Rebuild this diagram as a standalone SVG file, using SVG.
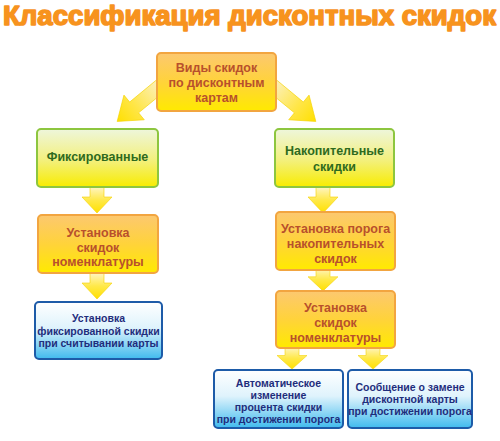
<svg xmlns="http://www.w3.org/2000/svg" width="500" height="441" viewBox="0 0 500 441">
<defs>
<linearGradient id="gOr" x1="0" y1="0" x2="0" y2="1"><stop offset="0" stop-color="#fcc870"/><stop offset="0.5" stop-color="#ffd33a"/><stop offset="1" stop-color="#ffea00"/></linearGradient>
<linearGradient id="gGr" x1="0" y1="0" x2="0" y2="1"><stop offset="0" stop-color="#eef6dc"/><stop offset="0.55" stop-color="#f3f07a"/><stop offset="1" stop-color="#f8ec00"/></linearGradient>
<linearGradient id="gBl" x1="0" y1="0" x2="0" y2="1"><stop offset="0" stop-color="#ffffff"/><stop offset="0.45" stop-color="#dff3fc"/><stop offset="1" stop-color="#40bbee"/></linearGradient>
<linearGradient id="gArV" x1="0" y1="0" x2="0" y2="1"><stop offset="0" stop-color="#fff5c4"/><stop offset="0.5" stop-color="#ffe94a"/><stop offset="1" stop-color="#ffe000"/></linearGradient>
<linearGradient id="gArD" x1="0" y1="0" x2="1" y2="0"><stop offset="0" stop-color="#fbf2d2"/><stop offset="0.6" stop-color="#ffe64a"/><stop offset="1" stop-color="#ffe000"/></linearGradient>
<polygon id="down" points="-7,0 7,0 7,10 15,10 0,26 -15,10 -7,10"/>
<polygon id="diag" points="0,-7 40,-7 40,-16 62,0 40,16 40,7 0,7"/>
</defs>
<style>
.title{font-family:"Liberation Sans",Arial,sans-serif;font-weight:bold;font-size:27px;fill:#f7931e;stroke:#f7931e;stroke-width:1.6;stroke-linejoin:round}
.or rect{fill:url(#gOr);stroke:#f2a540;stroke-width:2}
.gr rect{fill:url(#gGr);stroke:#8dc63f;stroke-width:2}
.bl rect{fill:url(#gBl);stroke:#1d5ba8;stroke-width:2}
text{font-family:"Liberation Sans",Arial,sans-serif;font-weight:bold;text-anchor:middle}
.or text{font-size:12.5px;fill:#b8502c}
.gr text{font-size:12.5px;fill:#2e6a1e}
.bl text{font-size:10.5px;fill:#1f2d7c}
.av{fill:url(#gArV);stroke:#f5d200;stroke-width:0.6}
.ad{fill:url(#gArD);stroke:#f5d200;stroke-width:0.6}
</style>
<text class="title" x="3" y="25" style="text-anchor:start" textLength="493" lengthAdjust="spacingAndGlyphs">Классификация дисконтных скидок</text>
<g id="connectors">
<use href="#diag" class="ad" transform="translate(165,82) rotate(140.5)"/>
<use href="#diag" class="ad" transform="translate(268,82) rotate(39.5)"/>
<use href="#down" class="av" transform="translate(97,187)"/>
<use href="#down" class="av" transform="translate(97,273)"/>
<use href="#down" class="av" transform="translate(323,187)"/>
<use href="#down" class="av" transform="translate(323,268) scale(1,0.88)"/>
<use href="#down" class="av" transform="translate(292,347) scale(1,0.85)"/>
<use href="#down" class="av" transform="translate(373,347) scale(1,0.85)"/>
</g>
<g id="n_top" class="or"><rect x="157" y="53" width="119" height="58" rx="4"/><text x="216.5" y="71.5">Виды скидок</text><text x="216.5" y="86.5">по дисконтным</text><text x="216.5" y="101.5">картам</text></g>
<g id="n_fixed" class="gr"><rect x="37" y="129" width="121" height="58" rx="4"/><text x="97.5" y="160.5">Фиксированные</text></g>
<g id="n_accum" class="gr"><rect x="275" y="129" width="119" height="58" rx="4"/><text x="334.5" y="154.5">Накопительные</text><text x="334.5" y="170.5">скидки</text></g>
<g id="n_setL" class="or"><rect x="38" y="215" width="120" height="58" rx="4"/><text x="98" y="237">Установка</text><text x="98" y="251.5">скидок</text><text x="98" y="266">номенклатуры</text></g>
<g id="n_fixcard" class="bl"><rect x="35" y="302" width="127" height="57" rx="4"/><text x="98.5" y="322">Установка</text><text x="98.5" y="334.5">фиксированной скидки</text><text x="98.5" y="347">при считывании карты</text></g>
<g id="n_thresh" class="or"><rect x="276" y="212" width="119" height="58" rx="4"/><text x="335.5" y="232.5">Установка порога</text><text x="335.5" y="247.5">накопительных</text><text x="335.5" y="262.5">скидок</text></g>
<g id="n_setR" class="or"><rect x="276" y="291" width="119" height="57" rx="4"/><text x="335.5" y="311.5">Установка</text><text x="335.5" y="326.5">скидок</text><text x="335.5" y="341.5">номенклатуры</text></g>
<g id="n_auto" class="bl"><rect x="214" y="370" width="129" height="58" rx="4"/><text x="278.5" y="387">Автоматическое</text><text x="278.5" y="398.5">изменение</text><text x="278.5" y="410.5">процента скидки</text><text x="278.5" y="422.5">при достижении порога</text></g>
<g id="n_msg" class="bl"><rect x="348" y="370" width="124" height="58" rx="4"/><text x="410" y="391">Сообщение о замене</text><text x="410" y="403">дисконтной карты</text><text x="410" y="415">при достижении порога</text></g>
</svg>
